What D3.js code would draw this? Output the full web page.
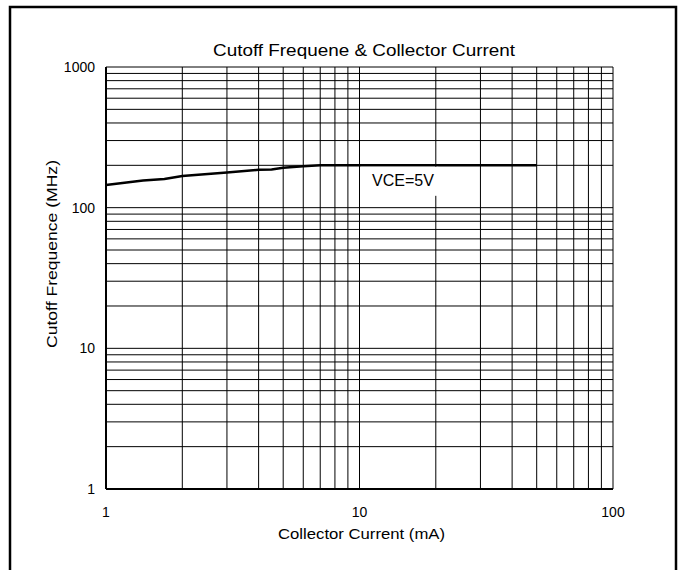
<!DOCTYPE html>
<html>
<head>
<meta charset="utf-8">
<script src="https://cdn.jsdelivr.net/npm/d3@7"></script>
<style>
  body { margin: 0; background: #fff; }
  svg text { font-family: "Liberation Sans", Arial, sans-serif; fill: #000; }
</style>
</head>
<body>
<div id="chart"></div>
<script>
// curve data
const current = [1, 1.4, 1.7, 2, 3, 4, 4.5, 5, 6, 7, 50];
const freq = [145, 156, 160, 168, 178, 186, 187, 192, 197, 200, 200];
const xTicks = [1, 10, 100];
const yTicks = [1, 10, 100, 1000];

const width = 682;
const height = 570;
const margin = { top: 67, right: 69, bottom: 81, left: 106 };
const plotWidth = width - margin.left - margin.right;
const plotHeight = height - margin.top - margin.bottom;

const svg = d3.select('#chart')
    .append('svg')
    .attr('width', width)
    .attr('height', height);

// outer frame (bottom edge runs off the picture)
svg.append('rect')
    .attr('x', 10)
    .attr('y', 7)
    .attr('width', 666)
    .attr('height', 600)
    .attr('fill', 'none')
    .attr('stroke', '#000')
    .attr('stroke-width', 2.5);

const plot = svg.append('g')
    .attr('transform', `translate(${margin.left},${margin.top})`);

const xScale = d3.scaleLog().domain([1, 100]).range([0, plotWidth]);
const yScale = d3.scaleLog().domain([1, 1000]).range([plotHeight, 0]);

// grid: every integer step of each decade
const xGrid = [];
for (let d = 1; d < 100; d *= 10) for (let k = 1; k <= 10; k++) xGrid.push(d * k);
const yGrid = [];
for (let d = 1; d < 1000; d *= 10) for (let k = 1; k <= 10; k++) yGrid.push(d * k);

plot.append('g').selectAll('line')
    .data(Array.from(new Set(xGrid)))
    .join('line')
    .attr('x1', d => xScale(d))
    .attr('x2', d => xScale(d))
    .attr('y1', 0)
    .attr('y2', plotHeight)
    .attr('stroke', '#000')
    .attr('stroke-width', 1);

plot.append('g').selectAll('line')
    .data(Array.from(new Set(yGrid)))
    .join('line')
    .attr('x1', 0)
    .attr('x2', plotWidth)
    .attr('y1', d => yScale(d))
    .attr('y2', d => yScale(d))
    .attr('stroke', '#000')
    .attr('stroke-width', 1);

// left and bottom axis lines a bit heavier
plot.append('line')
    .attr('x1', 0).attr('x2', 0)
    .attr('y1', 0).attr('y2', plotHeight)
    .attr('stroke', '#000').attr('stroke-width', 2);
plot.append('line')
    .attr('x1', 0).attr('x2', plotWidth)
    .attr('y1', plotHeight).attr('y2', plotHeight)
    .attr('stroke', '#000').attr('stroke-width', 2);

// tick labels
plot.append('g').selectAll('text')
    .data(xTicks)
    .join('text')
    .attr('x', d => xScale(d))
    .attr('y', plotHeight + 28)
    .attr('text-anchor', 'middle')
    .attr('font-size', 14)
    .text(d => d);

plot.append('g').selectAll('text')
    .data(yTicks)
    .join('text')
    .attr('x', -11)
    .attr('y', d => yScale(d) + 5)
    .attr('text-anchor', 'end')
    .attr('font-size', 14)
    .text(d => d);

// curve
const line = d3.line()
    .x((d, i) => xScale(current[i]))
    .y(d => yScale(d));

plot.append('path')
    .datum(freq)
    .attr('fill', 'none')
    .attr('stroke', '#000')
    .attr('stroke-width', 2.5)
    .attr('d', line);

// VCE label with white box over grid
const bx = xScale(10) + 1.5, by = yScale(200) + 1.5;
plot.append('rect')
    .attr('x', bx)
    .attr('y', by)
    .attr('width', xScale(20) - xScale(10) + 1)
    .attr('height', 29)
    .attr('fill', '#fff');
plot.append('text')
    .attr('x', bx + 11)
    .attr('y', by + 19.5)
    .attr('font-size', 16)
    .attr('textLength', 62)
    .attr('lengthAdjust', 'spacingAndGlyphs')
    .text('VCE=5V');

// titles
svg.append('text')
    .attr('x', 213)
    .attr('y', 56)
    .attr('font-size', 17)
    .attr('textLength', 302)
    .attr('lengthAdjust', 'spacingAndGlyphs')
    .text('Cutoff  Frequene & Collector Current');

svg.append('text')
    .attr('x', 278)
    .attr('y', 539)
    .attr('font-size', 15)
    .attr('textLength', 167)
    .attr('lengthAdjust', 'spacingAndGlyphs')
    .text('Collector Current (mA)');

svg.append('text')
    .attr('transform', 'translate(57,348) rotate(-90)')
    .attr('font-size', 15.5)
    .attr('textLength', 188)
    .attr('lengthAdjust', 'spacingAndGlyphs')
    .text('Cutoff Frequence (MHz)');
</script>
</body>
</html>
